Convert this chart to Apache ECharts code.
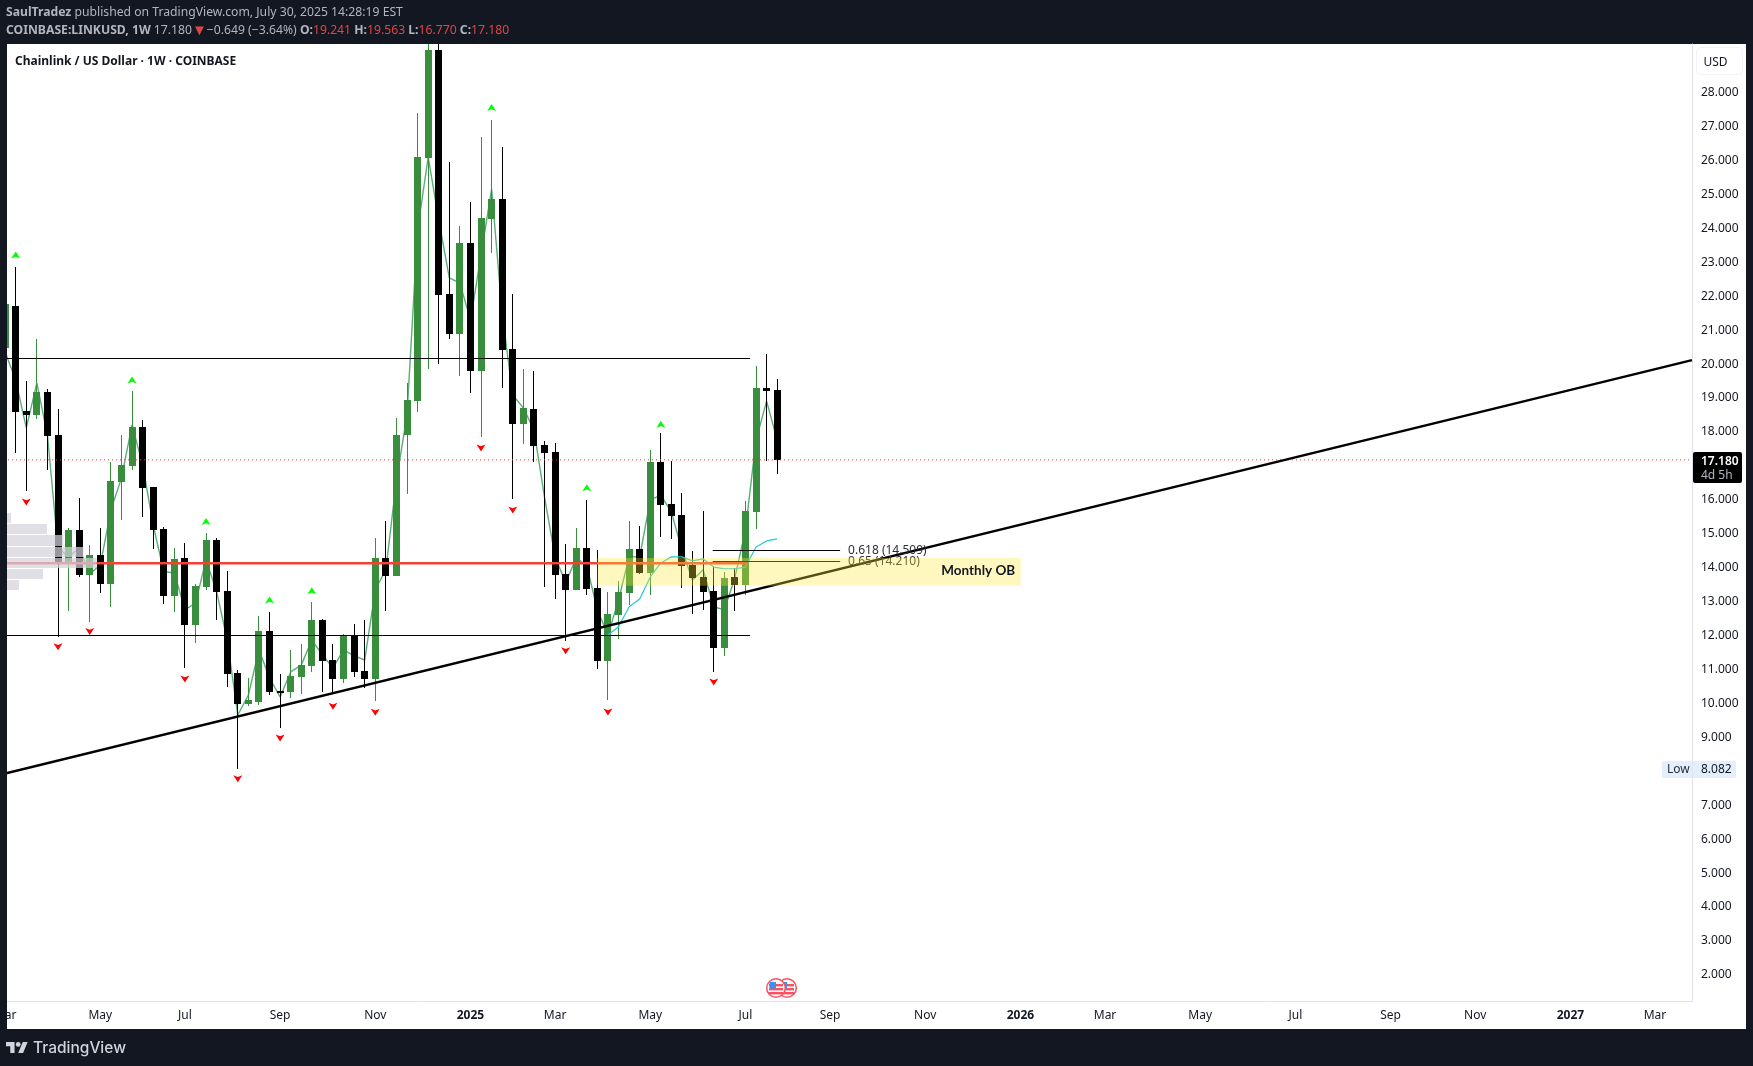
<!DOCTYPE html>
<html>
<head>
<meta charset="utf-8">
<title>LINKUSD 1W</title>
<script src="https://cdn.jsdelivr.net/npm/echarts@6/dist/echarts.min.js"></script>
<style>
    html, body { margin: 0; padding: 0; background: #131722; }
    #chart { width: 1753px; height: 1066px; }
</style>
</head>
<body>
<div id="chart"></div>
<script>
// bar index on the x axis: bar 0 is the week of 2024-03-11
const firstBar = -1;
const opens = [20.48, 21.71, 18.62, 18.50, 19.18, 17.91, 14.10, 15.11, 13.79, 14.38, 13.52, 16.53, 17.00, 18.15, 16.38, 15.14, 13.17, 14.29, 12.31, 13.43, 14.82, 13.32, 10.90, 9.98, 10.04, 12.14, 10.37, 10.34, 10.78, 11.10, 12.46, 11.28, 10.72, 11.99, 10.96, 10.72, 14.29, 13.76, 17.91, 18.91, 26.08, 29.26, 22.07, 20.89, 23.57, 19.80, 24.28, 24.87, 20.45, 18.24, 18.68, 17.62, 17.41, 13.82, 13.35, 14.58, 13.41, 11.26, 12.61, 13.26, 14.55, 13.85, 17.12, 15.88, 15.56, 14.08, 13.73, 13.32, 11.64, 13.73, 13.50, 15.64, 19.29, 19.241];
const highs = [21.89, 22.86, 19.50, 20.74, 19.27, 18.68, 15.17, 16.05, 14.67, 15.17, 17.12, 17.91, 19.21, 18.35, 16.38, 15.20, 14.58, 14.73, 13.52, 15.02, 14.88, 13.91, 10.98, 10.75, 12.58, 12.70, 10.87, 11.58, 11.76, 12.99, 12.49, 11.76, 12.05, 12.34, 12.46, 14.88, 15.38, 18.41, 19.44, 27.40, 29.90, 29.90, 25.96, 24.07, 24.78, 26.70, 27.19, 26.40, 22.07, 19.86, 19.80, 17.73, 17.68, 14.70, 15.17, 16.00, 14.52, 13.29, 13.61, 15.38, 15.23, 17.47, 17.97, 17.15, 16.20, 14.49, 15.67, 14.05, 13.87, 13.99, 15.97, 19.94, 20.30, 19.563];
const lows = [20.48, 17.39, 16.27, 18.39, 16.88, 11.97, 12.73, 13.74, 12.41, 13.26, 12.85, 15.41, 16.88, 15.50, 14.55, 12.93, 12.70, 11.05, 11.78, 13.34, 12.46, 10.49, 8.082, 9.92, 9.95, 10.25, 9.27, 10.16, 10.28, 10.93, 10.34, 10.28, 10.60, 10.78, 10.45, 10.07, 12.73, 13.76, 16.17, 18.59, 19.86, 20.00, 20.74, 19.65, 19.15, 17.85, 23.27, 19.30, 16.03, 17.65, 17.12, 13.44, 13.08, 11.84, 13.35, 13.20, 11.02, 10.10, 11.90, 12.90, 13.82, 13.20, 14.91, 14.85, 13.41, 12.64, 12.76, 10.93, 11.40, 12.73, 13.20, 15.14, 17.15, 16.770];
const closes = [21.77, 18.60, 18.50, 19.18, 17.88, 14.10, 15.11, 13.79, 14.38, 13.52, 16.56, 17.03, 18.15, 16.35, 15.11, 13.17, 14.26, 12.31, 13.46, 14.82, 13.29, 10.87, 9.98, 10.10, 12.14, 10.34, 10.33, 10.81, 11.13, 12.46, 11.26, 10.72, 11.99, 10.93, 10.72, 14.29, 13.76, 17.91, 18.94, 26.10, 29.26, 22.04, 20.89, 23.57, 19.80, 24.31, 24.87, 20.42, 18.24, 18.71, 17.59, 17.38, 13.79, 13.35, 14.58, 13.38, 11.26, 12.64, 13.29, 14.55, 13.85, 17.12, 15.85, 15.53, 14.05, 13.70, 13.29, 11.64, 13.70, 13.50, 15.67, 19.29, 19.21, 17.180];

// thin green line running through the candles, one point per bar
const swingLine = [20.36, 19.53, 18.12, 19.44, 17.91, 14.58, 14.32, 14.58, 13.82, 14.08, 15.70, 16.64, 18.21, 17.03, 15.26, 13.88, 13.85, 12.76, 12.96, 14.23, 13.29, 11.87, 9.66, 10.25, 11.58, 10.75, 10.19, 10.93, 11.13, 11.87, 11.43, 11.05, 11.58, 11.40, 11.28, 13.35, 13.94, 16.58, 18.50, 23.95, 26.10, 24.25, 22.54, 22.39, 21.30, 23.22, 25.16, 21.48, 19.09, 18.71, 18.06, 16.08, 14.32, 13.56, 14.29, 14.05, 12.76, 12.02, 13.05, 14.32, 14.32, 16.00, 16.14, 15.64, 14.52, 13.64, 13.94, 12.85, 12.76, 13.70, 15.11, 17.76, 18.91, 17.76];

// cyan average, starts at bar 56
const avgFirstBar = 56;
const avgLine = [12.02, 12.26, 12.85, 13.08, 13.73, 14.14, 14.32, 14.32, 14.20, 14.26, 14.02, 13.97, 13.97, 14.02, 14.61, 14.79, 14.85];

// swing arrows
const upBars = [0, 11, 18, 24, 28, 45, 54, 61];
const upPrices = [23.22, 19.53, 15.36, 13.05, 13.32, 27.56, 16.36, 18.23];
const downBars = [1, 4, 7, 16, 21, 25, 30, 34, 44, 47, 52, 56, 66];
const downPrices = [15.94, 11.67, 12.12, 10.72, 7.78, 8.98, 9.92, 9.74, 17.53, 15.70, 11.55, 9.75, 10.63];

// horizontal levels
const blackLevels = [20.17, 12.01];
const blackLevelEnd = 69.44;
const redLevel = 14.14;
const redLevelEnd = 69.25;
const lastPrice = 17.18;
const lowPrice = 8.082;

// fib levels
const fibPrices = [14.53, 14.20];
const fibBars = [65.9, 77.95];
const fibLabels = ['0.618 (14.509)', '0.65 (14.210)'];

// rising trend line
const trendBars = [-1.485, 158.5];
const trendPrices = [7.90, 20.12];

// monthly order block
const zoneBars = [55, 95.03];
const zonePrices = [14.29, 13.47];
const zoneLabel = 'Monthly OB';

// volume profile rows at the left edge: upper price, lower price, bar reached
const profileTops = [15.61, 15.29, 14.97, 14.61, 14.29, 13.97, 13.64];
const profileBottoms = [15.33, 15.00, 14.65, 14.32, 14.00, 13.67, 13.35];
const profileEnds = [-0.44, 2.96, 4.50, 6.39, 7.66, 2.58, 0.31];

// axes
const xMin = -1.485;
const xMax = 158.5;
const yMin = 1.231;
const yMax = 29.435;
const monthBars = [-1, 8, 16, 25, 34, 43, 51, 60, 69, 77, 86, 95, 103, 112, 121, 130, 138, 147, 155];
const monthLabels = ['Mar', 'May', 'Jul', 'Sep', 'Nov', '2025', 'Mar', 'May', 'Jul', 'Sep', 'Nov', '2026', 'Mar', 'May', 'Jul', 'Sep', 'Nov', '2027', 'Mar'];
const priceTicks = [28, 27, 26, 25, 24, 23, 22, 21, 20, 19, 18, 16, 15, 14, 13, 12, 11, 10, 9, 7, 6, 5, 4, 3, 2];

const FONT = '"Noto Sans", sans-serif';
const GREEN = '#388e3c';
const DARK = '#131722';

function renderCandle(params, api) {
    const bar = api.value(0);
    const open = api.value(1);
    const close = api.value(4);
    const center = api.coord([bar, open])[0];
    const left = Math.round(center - 3.5);
    const yOpen = api.coord([bar, open])[1];
    const yClose = api.coord([bar, close])[1];
    const yHigh = Math.round(api.coord([bar, api.value(2)])[1]);
    const yLow = Math.round(api.coord([bar, api.value(3)])[1]);
    const bodyTop = Math.round(Math.min(yOpen, yClose));
    const bodyH = Math.max(Math.round(Math.abs(yClose - yOpen)), 2);
    const color = close >= open ? GREEN : '#000000';
    return {
        type: 'group',
        children: [
            { type: 'rect', shape: { x: left + 3, y: yHigh, width: 1, height: yLow - yHigh }, style: { fill: color } },
            { type: 'rect', shape: { x: left, y: bodyTop, width: 7, height: bodyH }, style: { fill: color } }
        ]
    };
}

function levelSeries(levels, lastBar, color, width, z) {
    return {
        type: 'custom',
        z: z,
        clip: true,
        silent: true,
        data: levels.map(function (price) { return [xMin, lastBar, price]; }),
        encode: { x: [0, 1], y: 2 },
        renderItem: function (params, api) {
            const start = api.coord([api.value(0), api.value(2)]);
            const end = api.coord([api.value(1), api.value(2)]);
            return {
                type: 'rect',
                shape: { x: start[0], y: Math.round(start[1] - width / 2), width: end[0] - start[0], height: width },
                style: { fill: color }
            };
        }
    };
}

const bars = opens.map(function (o, i) {
    return [firstBar + i, o, highs[i], lows[i], closes[i]];
});

const option = {
    animation: false,
    backgroundColor: DARK,
    grid: { left: 0, right: 61, top: 44, bottom: 65, outerBoundsMode: 'none' },
    xAxis: {
        type: 'value',
        min: xMin,
        max: xMax,
        splitLine: { show: false },
        axisLine: { show: true, onZero: false, lineStyle: { color: '#e0e3eb', width: 1 } },
        axisTick: { show: false },
        axisLabel: {
            customValues: monthBars,
            margin: 9,
            color: DARK,
            fontFamily: FONT,
            fontSize: 12,
            formatter: function (value) {
                const text = monthLabels[monthBars.indexOf(value)];
                return /^20/.test(text) ? '{year|' + text + '}' : text;
            },
            rich: { year: { fontFamily: FONT, fontSize: 12, fontWeight: 'bold', color: DARK } }
        }
    },
    yAxis: {
        type: 'value',
        position: 'right',
        min: yMin,
        max: yMax,
        splitLine: { show: false },
        axisLine: { show: true, onZero: false, lineStyle: { color: '#e0e3eb', width: 1 } },
        axisTick: { show: false },
        axisLabel: {
            customValues: priceTicks,
            margin: 9,
            color: DARK,
            fontFamily: FONT,
            fontSize: 12,
            formatter: function (value) { return value.toFixed(3); }
        }
    },
    series: [
        {
            type: 'line',
            z: 1,
            data: swingLine.map(function (v, i) { return [firstBar + i, v]; }),
            showSymbol: false,
            silent: true,
            lineStyle: { color: '#5aad78', width: 1.4 }
        },
        {
            type: 'custom',
            z: 2,
            clip: true,
            silent: true,
            data: bars,
            encode: { x: 0, y: [1, 2, 3, 4] },
            renderItem: renderCandle
        },
        {
            type: 'line',
            z: 3,
            data: avgLine.map(function (v, i) { return [avgFirstBar + i, v]; }),
            showSymbol: false,
            silent: true,
            lineStyle: { color: '#26c6da', width: 1.2 }
        },
        {
            type: 'line',
            z: 3,
            data: [[xMin, lastPrice], [xMax, lastPrice]],
            showSymbol: false,
            silent: true,
            lineStyle: { color: '#f23645', width: 1, type: [1, 3] }
        },
        levelSeries(blackLevels, blackLevelEnd, '#000000', 1, 4),
        levelSeries([redLevel], redLevelEnd, '#f44336', 2.5, 4),
        {
            type: 'line',
            z: 4,
            data: trendBars.map(function (b, i) { return [b, trendPrices[i]]; }),
            showSymbol: false,
            silent: true,
            lineStyle: { color: '#000000', width: 2.4 }
        },
        {
            type: 'custom',
            z: 5,
            silent: true,
            data: fibPrices.map(function (p) { return [fibBars[0], fibBars[1], p]; }),
            encode: { x: [0, 1], y: 2 },
            renderItem: function (params, api) {
                const start = api.coord([api.value(0), api.value(2)]);
                const end = api.coord([api.value(1), api.value(2)]);
                return {
                    type: 'group',
                    children: [
                        { type: 'rect', shape: { x: start[0], y: Math.round(start[1]), width: end[0] - start[0], height: 1 }, style: { fill: '#000000' } },
                        {
                            type: 'text',
                            style: {
                                x: end[0] + 8,
                                y: start[1] + 1,
                                text: fibLabels[params.dataIndex],
                                fill: '#2a2e39',
                                font: '12px ' + FONT,
                                verticalAlign: 'middle'
                            }
                        }
                    ]
                };
            }
        },
        {
            type: 'scatter',
            z: 5,
            silent: true,
            data: upBars.map(function (b, i) { return [b, upPrices[i]]; }),
            symbol: 'path://M5 0 L10 8 L5 6 L0 8 Z',
            symbolSize: [9, 7],
            itemStyle: { color: '#00ff00', opacity: 1 }
        },
        {
            type: 'scatter',
            z: 5,
            silent: true,
            data: downBars.map(function (b, i) { return [b, downPrices[i]]; }),
            symbol: 'path://M0 0 L5 2 L10 0 L5 8 Z',
            symbolSize: [9, 7],
            itemStyle: { color: '#ff0000', opacity: 1 }
        },
        {
            type: 'custom',
            z: 6,
            silent: true,
            data: [[zoneBars[0], zoneBars[1], zonePrices[0], zonePrices[1]]],
            encode: { x: [0, 1], y: [2, 3] },
            renderItem: function (params, api) {
                const a = api.coord([api.value(0), api.value(2)]);
                const b = api.coord([api.value(1), api.value(3)]);
                return {
                    type: 'group',
                    children: [
                        { type: 'rect', shape: { x: a[0], y: a[1], width: b[0] - a[0], height: b[1] - a[1] }, style: { fill: 'rgba(255,235,59,0.33)' } },
                        {
                            type: 'text',
                            style: {
                                x: b[0] - 5.5,
                                y: (a[1] + b[1]) / 2 - 1,
                                text: zoneLabel,
                                fill: '#131722',
                                font: 'bold 13.5px Lato, sans-serif',
                                align: 'right',
                                verticalAlign: 'middle'
                            }
                        }
                    ]
                };
            }
        },
        {
            type: 'custom',
            z: 7,
            silent: true,
            data: profileEnds.map(function (e, i) { return [e, profileTops[i], profileBottoms[i]]; }),
            encode: { x: 0, y: [1, 2] },
            renderItem: function (params, api) {
                const top = api.coord([api.value(0), api.value(1)]);
                const bottom = api.coord([api.value(0), api.value(2)]);
                return {
                    type: 'rect',
                    shape: { x: params.coordSys.x, y: Math.round(top[1]), width: top[0] - params.coordSys.x, height: Math.round(bottom[1] - top[1]) },
                    style: { fill: 'rgba(211,211,219,0.72)' }
                };
            }
        }
    ]
};

const chart = echarts.init(document.getElementById('chart'), null, { renderer: 'canvas' });
chart.setOption(option);

// small round US flag near the time axis
function flagCoin(cx, cy, z) {
    const parts = [
        { type: 'circle', z: z, silent: true, shape: { cx: cx, cy: cy, r: 9.3 }, style: { fill: '#ffffff', stroke: '#f7525f', lineWidth: 1.5 } }
    ];
    [-4, 0, 4].forEach(function (dy) {
        parts.push({ type: 'rect', z: z + 1, silent: true, shape: { x: cx - 7, y: cy + dy, width: 14, height: 2.4 }, style: { fill: '#f7525f' } });
    });
    parts.push({ type: 'rect', z: z + 2, silent: true, shape: { x: cx - 6.5, y: cy - 6, width: 6.5, height: 6.5 }, style: { fill: '#3f8ff0' } });
    return parts;
}

// TradingView logo, from a 36 wide glyph box
function logoPoints(points) {
    return points.map(function (p) { return [6 + p[0] * 0.61, 1039.5 + p[1] * 0.61]; });
}

// frame, header, price tags: everything that is not a mark
function overlay() {
    const yLast = chart.convertToPixel({ yAxisIndex: 0 }, lastPrice);
    const yLow = chart.convertToPixel({ yAxisIndex: 0 }, lowPrice);
    const red = { fontFamily: FONT, fontSize: 12.2, fill: '#e04545' };
    const arrow = { fontFamily: FONT, fontSize: 15, fill: '#e04545' };
    const grey = { fontFamily: FONT, fontSize: 12.2, fill: '#b2b5be' };
    const bold = { fontFamily: FONT, fontSize: 12.2, fontWeight: 'bold', fill: '#b2b5be' };
    return [
        { type: 'rect', z: -1, silent: true, shape: { x: 7, y: 44, width: 1739, height: 985 }, style: { fill: '#ffffff' } },
        { type: 'rect', z: 100, silent: true, shape: { x: 0, y: 0, width: 7, height: 1066 }, style: { fill: DARK } }
    ].concat(flagCoin(787, 988, 8), flagCoin(776, 988, 11), [
        {
            type: 'text', z: 101, silent: true,
            style: {
                x: 6, y: 13, verticalAlign: 'middle',
                text: '{b|SaulTradez}{n| published on TradingView.com, July 30, 2025 14:28:19 EST}',
                rich: { b: bold, n: grey }
            }
        },
        {
            type: 'text', z: 101, silent: true,
            style: {
                x: 6, y: 30.5, verticalAlign: 'middle',
                text: '{b|COINBASE:LINKUSD, 1W}{n| 17.180}{a|▼}{n|−0.649 (−3.64%) }{b|O:}{r|19.241}{b| H:}{r|19.563}{b| L:}{r|16.770}{b| C:}{r|17.180}',
                rich: { b: bold, n: grey, r: red, a: arrow }
            }
        },
        {
            type: 'text', z: 101, silent: true,
            style: { x: 15, y: 61.5, verticalAlign: 'middle', text: 'Chainlink / US Dollar · 1W · COINBASE', fill: DARK, font: 'bold 12px ' + FONT }
        },
        { type: 'rect', z: 9, silent: true, shape: { x: 1696.5, y: 47.5, width: 46, height: 27, r: 4 }, style: { fill: '#ffffff', stroke: '#f0f3fa', lineWidth: 1 } },
        { type: 'text', z: 10, silent: true, style: { x: 1715.5, y: 62.5, align: 'center', verticalAlign: 'middle', text: 'USD', fill: DARK, font: '12px ' + FONT } },
        { type: 'rect', z: 9, silent: true, shape: { x: 1693, y: Math.round(yLast) - 8, width: 49, height: 31, r: 2 }, style: { fill: '#000000' } },
        { type: 'text', z: 10, silent: true, style: { x: 1701, y: yLast + 1.5, verticalAlign: 'middle', text: '17.180', fill: '#ffffff', font: '600 12px ' + FONT } },
        { type: 'text', z: 10, silent: true, style: { x: 1701, y: yLast + 16, verticalAlign: 'middle', text: '4d 5h', fill: '#b2b5be', font: '12px ' + FONT } },
        { type: 'rect', z: 9, silent: true, shape: { x: 1662, y: Math.round(yLow) - 8, width: 74, height: 17, r: 2 }, style: { fill: '#e3effd' } },
        { type: 'rect', z: 9, silent: true, shape: { x: 1692, y: Math.round(yLow) - 8, width: 1, height: 17 }, style: { fill: '#e0e3eb' } },
        { type: 'text', z: 10, silent: true, style: { x: 1667, y: yLow + 1.5, verticalAlign: 'middle', text: 'Low', fill: '#2a2e39', font: '12px ' + FONT } },
        { type: 'text', z: 10, silent: true, style: { x: 1701, y: yLow + 1.5, verticalAlign: 'middle', text: '8.082', fill: DARK, font: '12px ' + FONT } },
        { type: 'polygon', z: 101, silent: true, shape: { points: logoPoints([[0, 4], [14, 4], [14, 22], [7, 22], [7, 11], [0, 11]]) }, style: { fill: '#d1d4dc' } },
        { type: 'polygon', z: 101, silent: true, shape: { points: logoPoints([[20, 22], [27.5, 4], [35.5, 4], [28, 22]]) }, style: { fill: '#d1d4dc' } },
        { type: 'circle', z: 101, silent: true, shape: { cx: 18.2, cy: 1044.4, r: 2.4 }, style: { fill: '#d1d4dc' } },
        { type: 'text', z: 101, silent: true, style: { x: 33, y: 1048.5, verticalAlign: 'middle', text: 'TradingView', fill: '#d1d4dc', font: '500 15.5px Inter, sans-serif' } }
    ]);
}

chart.setOption({ graphic: { elements: overlay() } });
</script>
</body>
</html>
